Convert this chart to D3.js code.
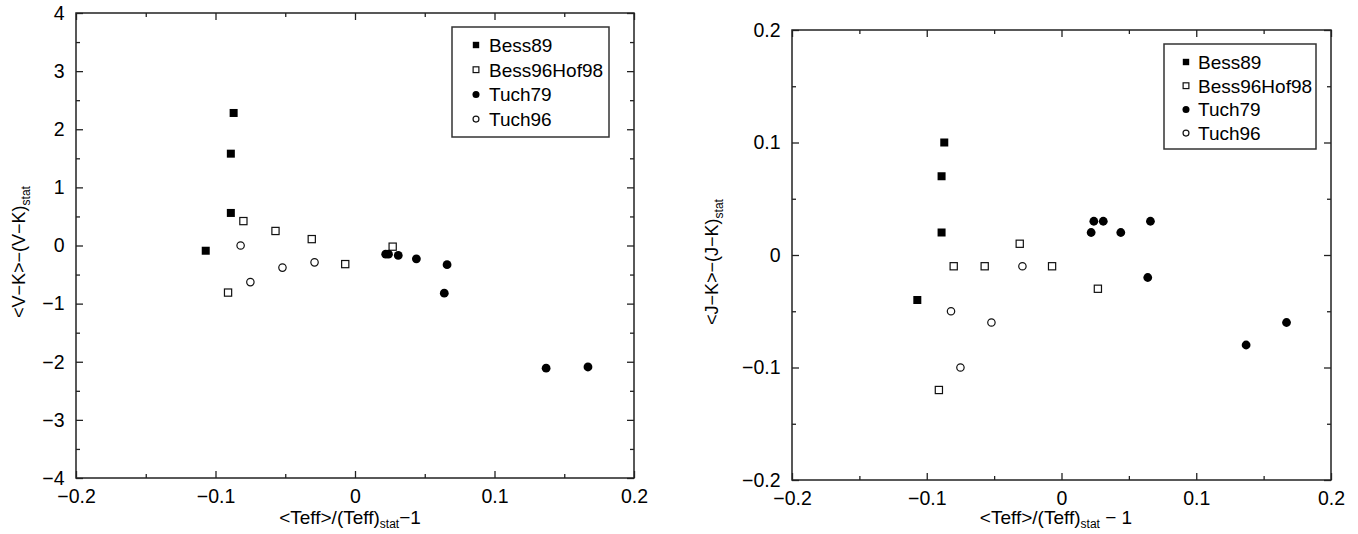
<!DOCTYPE html>
<html>
<head>
<meta charset="utf-8">
<script src="https://cdn.jsdelivr.net/npm/d3@7"></script>
<style>
  html, body { margin: 0; padding: 0; background: #fff; }
  svg { display: block; font-family: "Liberation Sans", Arial, sans-serif; }
</style>
</head>
<body>
<svg id="chart" width="1358" height="534"></svg>
<script>
// Series: relative Teff offset vs colour offsets for four calibrations
const teffBess89 = [-0.087, -0.089, -0.089, -0.107];
const vkBess89   = [2.28, 1.58, 0.56, -0.09];
const jkBess89   = [0.10, 0.07, 0.02, -0.04];

const teffBess96Hof98 = [-0.080, -0.057, -0.031, -0.007, 0.027, -0.091];
const vkBess96Hof98   = [0.42, 0.25, 0.11, -0.32, -0.02, -0.81];
const jkBess96Hof98   = [-0.01, -0.01, 0.01, -0.01, -0.03, -0.12];

const teffTuch79 = [0.022, 0.024, 0.031, 0.044, 0.066, 0.064, 0.137, 0.167];
const vkTuch79   = [-0.15, -0.15, -0.17, -0.23, -0.33, -0.82, -2.11, -2.09];
const jkTuch79   = [0.02, 0.03, 0.03, 0.02, 0.03, -0.02, -0.08, -0.06];

const teffTuch96 = [-0.082, -0.075, -0.052, -0.029];
const vkTuch96   = [0.00, -0.63, -0.38, -0.29];
const jkTuch96   = [-0.05, -0.10, -0.06, -0.01];

const seriesNames = ["Bess89", "Bess96Hof98", "Tuch79", "Tuch96"];

const xTicks = [-0.2, -0.1, 0, 0.1, 0.2];
const xMinorTicks = [-0.15, -0.05, 0.05, 0.15];
const vkTicks = [-4, -3, -2, -1, 0, 1, 2, 3, 4];
const vkMinorTicks = [-3.5, -2.5, -1.5, -0.5, 0.5, 1.5, 2.5, 3.5];
const jkTicks = [-0.2, -0.1, 0, 0.1, 0.2];
const jkMinorTicks = [-0.15, -0.05, 0.05, 0.15];

const svg = d3.select("#chart");
const fmt = d => (d < 0 ? "\u2212" : "") + String(Math.abs(d));

// marker style per series
const markerStyle = {
  "Bess89":      { shape: "square", filled: true },
  "Bess96Hof98": { shape: "square", filled: false },
  "Tuch79":      { shape: "circle", filled: true },
  "Tuch96":      { shape: "circle", filled: false }
};

function drawMarker(g, name, cx, cy, scale) {
  const st = markerStyle[name];
  if (st.shape === "square") {
    const s = (st.filled ? 8 : 7.2) * scale;
    g.append("rect")
      .attr("x", cx - s / 2).attr("y", cy - s / 2)
      .attr("width", s).attr("height", s)
      .attr("fill", st.filled ? "#000" : "#fff")
      .attr("stroke", st.filled ? "none" : "#111")
      .attr("stroke-width", 1.2);
  } else {
    const r = (st.filled ? 4.4 : 3.7) * scale;
    g.append("circle")
      .attr("cx", cx).attr("cy", cy).attr("r", r)
      .attr("fill", st.filled ? "#000" : "#fff")
      .attr("stroke", st.filled ? "none" : "#111")
      .attr("stroke-width", 1.2);
  }
}

function drawPanel(cfg) {
  const x = d3.scaleLinear().domain([-0.2, 0.2]).range([cfg.left, cfg.right]);
  const y = d3.scaleLinear().domain(cfg.yDomain).range([cfg.bottom, cfg.top]);
  const g = svg.append("g");

  const styleAxis = sel => {
    sel.select(".domain").remove();
    sel.selectAll(".tick line").attr("stroke", "#222").attr("stroke-width", 1.3);
    sel.selectAll(".tick text").attr("fill", "#000").style("font-size", "19.5px")
      .style("font-family", "'Liberation Sans', Arial, sans-serif");
  };

  // bottom axis with labels
  g.append("g").attr("transform", `translate(0,${cfg.bottom})`)
    .call(d3.axisBottom(x).tickValues(xTicks).tickSize(-7).tickPadding(11).tickFormat(fmt))
    .call(styleAxis);
  g.append("g").attr("transform", `translate(0,${cfg.bottom})`)
    .call(d3.axisBottom(x).tickValues(xMinorTicks).tickSize(-4).tickFormat(""))
    .call(styleAxis);
  // top axis (ticks only)
  g.append("g").attr("transform", `translate(0,${cfg.top})`)
    .call(d3.axisTop(x).tickValues(xTicks).tickSize(-7).tickFormat(""))
    .call(styleAxis);
  g.append("g").attr("transform", `translate(0,${cfg.top})`)
    .call(d3.axisTop(x).tickValues(xMinorTicks).tickSize(-4).tickFormat(""))
    .call(styleAxis);
  // left axis with labels
  g.append("g").attr("transform", `translate(${cfg.left},0)`)
    .call(d3.axisLeft(y).tickValues(cfg.yTicks).tickSize(-7).tickPadding(11.5).tickFormat(fmt))
    .call(styleAxis);
  g.append("g").attr("transform", `translate(${cfg.left},0)`)
    .call(d3.axisLeft(y).tickValues(cfg.yMinor).tickSize(-4).tickFormat(""))
    .call(styleAxis);
  // right axis (ticks only)
  g.append("g").attr("transform", `translate(${cfg.right},0)`)
    .call(d3.axisRight(y).tickValues(cfg.yTicks).tickSize(-7).tickFormat(""))
    .call(styleAxis);
  g.append("g").attr("transform", `translate(${cfg.right},0)`)
    .call(d3.axisRight(y).tickValues(cfg.yMinor).tickSize(-4).tickFormat(""))
    .call(styleAxis);

  // frame
  g.append("rect")
    .attr("x", cfg.left).attr("y", cfg.top)
    .attr("width", cfg.right - cfg.left).attr("height", cfg.bottom - cfg.top)
    .attr("fill", "none").attr("stroke", "#222").attr("stroke-width", 1.5);

  // data points
  const pts = g.append("g");
  cfg.series.forEach(s => {
    s.xs.forEach((xv, i) => drawMarker(pts, s.name, x(xv), y(s.ys[i]), 1));
  });

  // legend
  const lg = g.append("g");
  lg.append("rect")
    .attr("x", cfg.legend.x0).attr("y", cfg.legend.y0)
    .attr("width", cfg.legend.x1 - cfg.legend.x0).attr("height", cfg.legend.y1 - cfg.legend.y0)
    .attr("fill", "#fff").attr("stroke", "#333").attr("stroke-width", 1.5);
  seriesNames.forEach((name, i) => {
    const cy = cfg.legend.firstRow + i * cfg.legend.rowStep;
    drawMarker(lg, name, cfg.legend.markerX, cy, 0.8);
    lg.append("text")
      .attr("x", cfg.legend.textX).attr("y", cy + 7)
      .style("font-size", "19px").attr("fill", "#000")
      .text(name);
  });

  // x title
  const xt = g.append("text")
    .attr("x", cfg.xTitleX).attr("y", 524)
    .attr("text-anchor", "middle")
    .style("font-size", "19px").attr("fill", "#000");
  xt.append("tspan").text("<Teff>/(Teff)");
  xt.append("tspan").attr("dy", 4).style("font-size", "12px").text("stat");
  xt.append("tspan").attr("dy", -4).text(cfg.xTitleTail);

  // y title
  const yt = g.append("text")
    .attr("transform", `translate(${cfg.yTitleX},${cfg.yTitleY}) rotate(-90)`)
    .attr("text-anchor", "middle")
    .style("font-size", "18px").attr("fill", "#000");
  yt.append("tspan").text(cfg.yTitleMain);
  yt.append("tspan").attr("dy", 5).style("font-size", "12px").text("stat");
}

drawPanel({
  left: 76, right: 634, top: 13, bottom: 478,
  yDomain: [-4, 4], yTicks: vkTicks, yMinor: vkMinorTicks,
  series: [
    { name: "Bess89", xs: teffBess89, ys: vkBess89 },
    { name: "Bess96Hof98", xs: teffBess96Hof98, ys: vkBess96Hof98 },
    { name: "Tuch79", xs: teffTuch79, ys: vkTuch79 },
    { name: "Tuch96", xs: teffTuch96, ys: vkTuch96 }
  ],
  legend: { x0: 452, x1: 609, y0: 27, y1: 137, markerX: 476, textX: 489, firstRow: 45, rowStep: 24.7 },
  xTitleX: 350, xTitleTail: "\u22121",
  yTitleX: 25, yTitleY: 252, yTitleMain: "<V\u2212K>\u2212(V\u2212K)"
});

drawPanel({
  left: 792, right: 1331, top: 30, bottom: 480,
  yDomain: [-0.2, 0.2], yTicks: jkTicks, yMinor: jkMinorTicks,
  series: [
    { name: "Bess89", xs: teffBess89, ys: jkBess89 },
    { name: "Bess96Hof98", xs: teffBess96Hof98, ys: jkBess96Hof98 },
    { name: "Tuch79", xs: teffTuch79, ys: jkTuch79 },
    { name: "Tuch96", xs: teffTuch96, ys: jkTuch96 }
  ],
  legend: { x0: 1164, x1: 1316, y0: 44, y1: 149, markerX: 1186, textX: 1198, firstRow: 62, rowStep: 23.7 },
  xTitleX: 1056, xTitleTail: " \u2212 1",
  yTitleX: 718, yTitleY: 262, yTitleMain: "<J\u2212K>\u2212(J\u2212K)"
});
</script>
</body>
</html>
